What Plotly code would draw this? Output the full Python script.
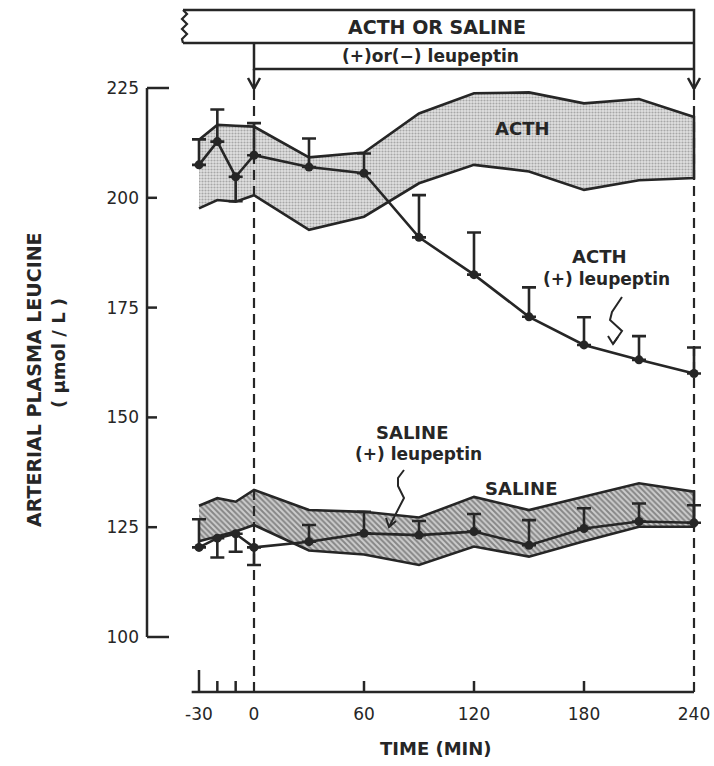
import plotly.graph_objects as go

# ---------------- data ----------------
time_min = [-30, -20, -10, 0, 30, 60, 90, 120, 150, 180, 210, 240]

acth_upper = [213.2, 216.6, 216.4, 216.2, 209.2, 210.3, 219.2, 223.8, 224.0, 221.5, 222.5, 218.4]
acth_lower = [197.6, 199.5, 199.1, 200.6, 192.7, 195.7, 203.3, 207.5, 206.0, 201.8, 204.0, 204.5]

acth_leup_mean = [207.5, 212.8, 204.8, 209.7, 207.0, 205.6, 191.0, 182.5, 172.9, 166.5, 163.1, 160.0]
acth_leup_err_plus = [5.8, 7.3, 0.0, 7.3, 6.5, 4.5, 9.6, 9.6, 6.7, 6.3, 5.4, 5.9]
acth_leup_err_minus = [0.0, 0.0, 5.6, 0.0, 0.0, 0.0, 0.0, 0.0, 0.0, 0.0, 0.0, 0.0]

saline_upper = [129.9, 131.6, 130.8, 133.5, 128.9, 128.5, 127.2, 131.9, 128.9, 132.0, 135.0, 133.1]
saline_lower = [121.8, 122.9, 124.0, 125.5, 119.7, 118.8, 116.4, 120.6, 118.3, 121.8, 125.1, 125.1]

saline_leup_mean = [120.4, 122.5, 123.5, 120.4, 121.7, 123.6, 123.2, 124.0, 120.9, 124.7, 126.3, 126.0]
saline_leup_err_plus = [6.4, 0.0, 0.0, 0.0, 3.8, 4.9, 3.2, 4.0, 5.7, 4.6, 4.1, 4.0]
saline_leup_err_minus = [0.0, 4.4, 4.1, 4.0, 0.0, 0.0, 0.0, 0.0, 0.0, 0.0, 0.0, 0.0]

x_tick_vals = [-30, 0, 60, 120, 180, 240]
x_tick_text = ["-30", "0", "60", "120", "180", "240"]
y_tick_vals = [100, 125, 150, 175, 200, 225]
y_tick_text = ["100", "125", "150", "175", "200", "225"]

# ---------------- layout geometry (reference pixel coordinates) ----------------
W, H = 714, 766
REF_LEFT, REF_RIGHT, REF_TOP, REF_BOTTOM = 147, 704, 0, 692
L = REF_LEFT
R = W - REF_RIGHT
T = REF_TOP
B = H - REF_BOTTOM
PW, PH = W - L - R, H - T - B
PX_PER_MIN = 440 / 240.0
X0 = (REF_LEFT - 254) / PX_PER_MIN
X1 = (REF_RIGHT - 254) / PX_PER_MIN
PX_PER_UNIT = 4.392
Y0 = 100 - (REF_BOTTOM - 637) / PX_PER_UNIT
Y1 = 100 + (637 - REF_TOP) / PX_PER_UNIT

INK = "#262626"
FONT = "DejaVu Sans"


def xp(px):
    return (px - REF_LEFT) / PW


def yp(py):
    return (REF_BOTTOM - py) / PH


def path(points, close=False):
    s = "M " + " L ".join(f"{xp(a):.5f},{yp(b):.5f}" for a, b in points)
    return s + (" Z" if close else "")


fig = go.Figure()

# ACTH band (stippled)
fig.add_trace(go.Scatter(
    x=time_min + time_min[::-1],
    y=acth_upper + acth_lower[::-1],
    mode="lines", fill="toself",
    fillcolor="#dcdcdc",
    fillpattern=dict(shape=".", fgcolor="#6e6e6e", bgcolor="#e0e0e0", size=3, solidity=0.4),
    line=dict(color=INK, width=2.6),
    hoverinfo="skip",
))

# Saline band (hatched)
fig.add_trace(go.Scatter(
    x=time_min + time_min[::-1],
    y=saline_upper + saline_lower[::-1],
    mode="lines", fill="toself",
    fillcolor="#c8c8c8",
    fillpattern=dict(shape="\\", fgcolor="#404040", bgcolor="#cdcdcd", size=4, solidity=0.5),
    line=dict(color=INK, width=2.6),
    hoverinfo="skip",
))

# ACTH + leupeptin
fig.add_trace(go.Scatter(
    x=time_min, y=acth_leup_mean, mode="lines+markers",
    line=dict(color=INK, width=2.6),
    marker=dict(color=INK, size=9),
    error_y=dict(type="data", symmetric=False, array=acth_leup_err_plus,
                 arrayminus=acth_leup_err_minus, color=INK, thickness=2.6, width=7),
    cliponaxis=False,
))

# Saline + leupeptin
fig.add_trace(go.Scatter(
    x=time_min, y=saline_leup_mean, mode="lines+markers",
    line=dict(color=INK, width=2.6),
    marker=dict(color=INK, size=9),
    error_y=dict(type="data", symmetric=False, array=saline_leup_err_plus,
                 arrayminus=saline_leup_err_minus, color=INK, thickness=2.6, width=7),
    cliponaxis=False,
))

shapes = []
line_style = dict(color=INK, width=2.5)

# y axis bracket
shapes.append(dict(type="line", xref="paper", yref="y", x0=0, x1=0, y0=100, y1=225, line=line_style))
for v in y_tick_vals:
    ln = 22 if v in (100, 225) else 10
    shapes.append(dict(type="line", xref="paper", yref="y", x0=0, x1=xp(REF_LEFT + ln), y0=v, y1=v, line=line_style))

# x axis
shapes.append(dict(type="line", xref="x", yref="paper", x0=-34, x1=240, y0=0, y1=0, line=line_style))
x_minor = [-30, -20, -10, 60, 120, 180]
for t in x_minor:
    hgt = 22 if t == -30 else 11
    shapes.append(dict(type="line", xref="x", yref="paper", x0=t, x1=t, y0=0, y1=hgt / PH, line=line_style))

# dashed vertical lines at 0 and 240
for t in (0, 240):
    shapes.append(dict(type="line", xref="x", yref="paper", x0=t, x1=t, y0=0, y1=yp(90),
                       line=dict(color=INK, width=2.2, dash="10px,6px")))

# header boxes
xl, xa, xr = 181, 254, 694
y_top, y_mid, y_bot = 10, 43, 69
shapes.append(dict(type="path", xref="paper", yref="paper",
                   path=path([(xl + 2, y_top), (xr, y_top), (xr, y_bot)]), line=line_style))
shapes.append(dict(type="path", xref="paper", yref="paper",
                   path=path([(xl + 2, y_mid), (xr, y_mid)]), line=line_style))
shapes.append(dict(type="path", xref="paper", yref="paper",
                   path=path([(xa, y_mid), (xa, y_bot), (xr, y_bot)]), line=line_style))
# wiggly left end
wig = [(xl + 2, y_top), (xl + 6, y_top + 4), (xl + 1, y_top + 9), (xl + 6, y_top + 14),
       (xl + 1, y_top + 19), (xl + 6, y_top + 24), (xl + 1, y_top + 29), (xl + 2, y_mid)]
shapes.append(dict(type="path", xref="paper", yref="paper", path=path(wig), line=dict(color=INK, width=2.2)))
# arrows
for ax in (xa, xr):
    shapes.append(dict(type="path", xref="paper", yref="paper",
                       path=path([(ax, y_bot), (ax, 89)]), line=line_style))
    shapes.append(dict(type="path", xref="paper", yref="paper",
                       path=path([(ax - 6, 78), (ax, 89), (ax + 6, 78)]), line=line_style))

# squiggle pointers
sq1 = [(622, 297), (612, 312), (610, 320), (622, 331), (613, 344)]
shapes.append(dict(type="path", xref="paper", yref="paper", path=path(sq1), line=dict(color=INK, width=2)))
shapes.append(dict(type="path", xref="paper", yref="paper",
                   path=path([(608, 336), (613, 344), (618, 337)]), line=dict(color=INK, width=2)))
sq2 = [(404, 470), (398, 478), (398, 486), (404, 498), (389, 527)]
shapes.append(dict(type="path", xref="paper", yref="paper", path=path(sq2), line=dict(color=INK, width=2)))
shapes.append(dict(type="path", xref="paper", yref="paper",
                   path=path([(386, 518), (389, 527), (396, 521)]), line=dict(color=INK, width=2)))

annotations = []


def label(text, px, py, size=19, bold=True, angle=0):
    annotations.append(dict(
        text=f"<b>{text}</b>" if bold else text,
        x=xp(px), y=yp(py), xref="paper", yref="paper",
        xanchor="center", yanchor="middle", showarrow=False, textangle=angle,
        font=dict(family=FONT, size=size, color=INK),
    ))


label("ACTH OR SALINE", 437, 27, size=19)
label("(+)or(−) leupeptin", 430, 56, size=17)
label("ACTH", 522, 128, size=18)
label("ACTH", 599, 256, size=18)
label("(+) leupeptin", 606, 279, size=17)
label("SALINE", 412, 432, size=18)
label("(+) leupeptin", 418, 454, size=17)
label("SALINE", 521, 488, size=18)
label("ARTERIAL PLASMA LEUCINE", 34, 380, size=19, angle=-90)
label("( µmol / L )", 59, 353, size=18, angle=-90)
label("TIME (MIN)", 436, 748, size=18)

fig.update_layout(
    width=W, height=H,
    margin=dict(l=L, r=R, t=T, b=B),
    paper_bgcolor="white", plot_bgcolor="white",
    showlegend=False,
    shapes=shapes,
    annotations=annotations,
    xaxis=dict(range=[X0, X1], showgrid=False, zeroline=False, showline=False,
               tickmode="array", tickvals=x_tick_vals, ticktext=x_tick_text, ticks="",
               ticklabelstandoff=10,
               tickfont=dict(family=FONT, size=17, color=INK)),
    yaxis=dict(range=[Y0, Y1], showgrid=False, zeroline=False, showline=False,
               tickmode="array", tickvals=y_tick_vals, ticktext=y_tick_text, ticks="",
               ticklabelstandoff=7,
               tickfont=dict(family=FONT, size=17, color=INK)),
)

# remove the default page margin so the figure sits at the window's top-left corner
fig.write_html(
    "out.html",
    config={"displayModeBar": False},
    post_script="document.body.style.margin='0';document.body.style.overflow='hidden';",
)
